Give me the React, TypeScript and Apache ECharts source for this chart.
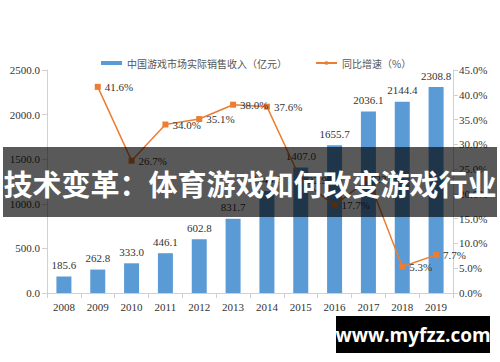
import React, { useEffect, useRef } from "react";
import * as echarts from "echarts";

const years = ["2008", "2009", "2010", "2011", "2012", "2013", "2014", "2015", "2016", "2017", "2018", "2019"];
const revenue = [185.6, 262.8, 333.0, 446.1, 602.8, 831.7, 1144.8, 1407.0, 1655.7, 2036.1, 2144.4, 2308.8];
const growth = [null, 41.6, 26.7, 34.0, 35.1, 38.0, 37.6, 22.9, 17.7, 23.0, 5.3, 7.7];
const revenueName = "中国游戏市场实际销售收入（亿元）";
const growthName = "同比增速（%）";
const bannerText = "技术变革：体育游戏如何改变游戏行业";
const watermarkText = "www.myfzz.com";

const serif = "'Liberation Serif', 'DejaVu Serif', serif";

export default function App() {
  const ref = useRef<HTMLDivElement>(null);
  useEffect(() => {
    if (!ref.current) return;
    const chart = echarts.init(ref.current, null, { renderer: "svg" });
    chart.setOption({
      animation: false,
      backgroundColor: "#ffffff",
      legend: {
        top: 53,
        left: 96,
        itemGap: 28,
        itemWidth: 21,
        itemHeight: 4,
        textStyle: { fontFamily: "'Noto Sans CJK SC'", fontSize: 10, color: "#555" },
        data: [
          { name: revenueName, icon: "rect" },
          { name: growthName },
        ],
      },
      grid: { left: 47, right: 47, top: 70, bottom: 69 },
      xAxis: {
        type: "category",
        data: years,
        axisLine: { lineStyle: { color: "#d0d0d0" } },
        axisTick: { show: true, lineStyle: { color: "#d0d0d0" } },
        axisLabel: { fontFamily: serif, fontSize: 11, color: "#333", margin: 8 },
      },
      yAxis: [
        {
          type: "value",
          min: 0,
          max: 2500,
          interval: 500,
          splitLine: { show: false },
          axisLine: { show: true, lineStyle: { color: "#d0d0d0" } },
          axisTick: { show: true, lineStyle: { color: "#d0d0d0" } },
          axisLabel: {
            fontFamily: serif,
            fontSize: 11,
            color: "#333",
            margin: 7,
            formatter: (v: number) => v.toFixed(1),
          },
        },
        {
          type: "value",
          min: 0,
          max: 45,
          interval: 5,
          splitLine: { show: false },
          axisLine: { show: true, lineStyle: { color: "#d0d0d0" } },
          axisTick: { show: true, lineStyle: { color: "#d0d0d0" } },
          axisLabel: {
            fontFamily: serif,
            fontSize: 11,
            color: "#333",
            margin: 6,
            formatter: (v: number) => v.toFixed(1) + "%",
          },
        },
      ],
      series: [
        {
          name: revenueName,
          type: "bar",
          data: revenue,
          barWidth: 15,
          itemStyle: { color: "#5b9bd5" },
          label: {
            show: true,
            position: "top",
            distance: 6,
            fontFamily: serif,
            fontSize: 11,
            color: "#333",
            formatter: (p: any) => Number(p.value).toFixed(1),
          },
        },
        {
          name: growthName,
          type: "line",
          yAxisIndex: 1,
          data: growth,
          symbol: "rect",
          symbolSize: 6,
          lineStyle: { color: "#ed7d31", width: 1.5 },
          itemStyle: { color: "#ed7d31" },
          label: {
            show: true,
            position: "right",
            distance: 4,
            fontFamily: serif,
            fontSize: 11,
            color: "#333",
            formatter: (p: any) => Number(p.value).toFixed(1) + "%",
          },
        },
      ],
      graphic: [
        {
          type: "rect",
          z: 100,
          shape: { x: 3, y: 147, width: 494, height: 70 },
          style: { fill: "rgba(0,0,0,0.65)" },
        },
        {
          type: "text",
          z: 101,
          x: 250,
          y: 183,
          style: {
            text: bannerText,
            fill: "#ffffff",
            font: "bold 29px 'Noto Sans CJK SC'",
            textAlign: "center",
            textVerticalAlign: "middle",
          },
        },
        {
          type: "rect",
          z: 100,
          shape: { x: 336, y: 316, width: 154, height: 37 },
          style: { fill: "#000000" },
        },
        {
          type: "text",
          z: 101,
          x: 413,
          y: 335,
          style: {
            text: watermarkText,
            fill: "#ffffff",
            font: "bold 19px 'Open Sans'",
            textAlign: "center",
            textVerticalAlign: "middle",
          },
        },
      ],
    });
    return () => chart.dispose();
  }, []);
  return (
    <div style={{ position: "absolute", left: 0, top: 0 }}>
      <div ref={ref} style={{ width: 500, height: 362 }} />
    </div>
  );
}
